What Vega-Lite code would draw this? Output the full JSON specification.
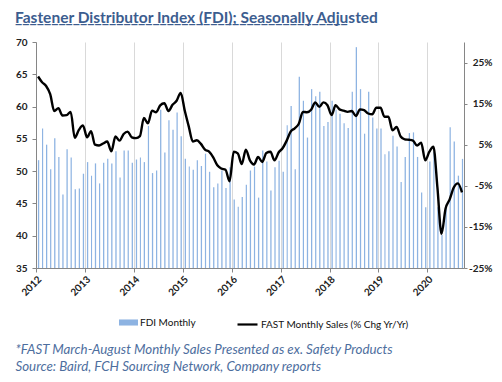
{
  "$schema": "https://vega.github.io/schema/vega-lite/v6.json",
  "width": 428,
  "height": 226,
  "autosize": {"type": "none"},
  "padding": {"left": 36, "top": 42, "right": 38, "bottom": 114},
  "background": "white",
  "config": {"view": {"stroke": null}, "font": "Lato"},
  "title": {
    "text": "Fastener Distributor Index (FDI); Seasonally Adjusted",
    "subtitle": "______________________________________________",
    "anchor": "start",
    "frame": "group",
    "dx": -21,
    "dy": 20,
    "offset": 18,
    "baseline": "alphabetic",
    "font": "Lato",
    "fontSize": 15.5,
    "fontWeight": "bold",
    "color": "#3c5d8f",
    "subtitleFont": "Lato",
    "subtitleFontSize": 15.5,
    "subtitleFontWeight": "bold",
    "subtitleColor": "#3c5d8f",
    "subtitlePadding": -16
  },
  "data": {
    "values": [
      {"m": "2012-01-01", "fdi": 51.7, "fast": 21.6},
      {"m": "2012-02-01", "fdi": 56.6, "fast": 20.2},
      {"m": "2012-03-01", "fdi": 54.1, "fast": 19.3},
      {"m": "2012-04-01", "fdi": 50.3, "fast": 17.3},
      {"m": "2012-05-01", "fdi": 55.1, "fast": 13.2},
      {"m": "2012-06-01", "fdi": 52.2, "fast": 13.9},
      {"m": "2012-07-01", "fdi": 46.4, "fast": 12.1},
      {"m": "2012-08-01", "fdi": 53.4, "fast": 12.2},
      {"m": "2012-09-01", "fdi": 52.1, "fast": 13.0},
      {"m": "2012-10-01", "fdi": 47.2, "fast": 6.7},
      {"m": "2012-11-01", "fdi": 47.3, "fast": 8.6},
      {"m": "2012-12-01", "fdi": 49.6, "fast": 9.7},
      {"m": "2013-01-01", "fdi": 51.4, "fast": 6.8},
      {"m": "2013-02-01", "fdi": 49.3, "fast": 8.3},
      {"m": "2013-03-01", "fdi": 51.2, "fast": 5.0},
      {"m": "2013-04-01", "fdi": 48.1, "fast": 4.8},
      {"m": "2013-05-01", "fdi": 51.3, "fast": 5.3},
      {"m": "2013-06-01", "fdi": 51.9, "fast": 5.8},
      {"m": "2013-07-01", "fdi": 51.2, "fast": 3.4},
      {"m": "2013-08-01", "fdi": 53.1, "fast": 7.0},
      {"m": "2013-09-01", "fdi": 49.0, "fast": 6.0},
      {"m": "2013-10-01", "fdi": 53.2, "fast": 7.6},
      {"m": "2013-11-01", "fdi": 53.2, "fast": 8.2},
      {"m": "2013-12-01", "fdi": 51.3, "fast": 6.8},
      {"m": "2014-01-01", "fdi": 51.8, "fast": 6.6},
      {"m": "2014-02-01", "fdi": 52.1, "fast": 7.1},
      {"m": "2014-03-01", "fdi": 51.4, "fast": 11.5},
      {"m": "2014-04-01", "fdi": 57.0, "fast": 10.2},
      {"m": "2014-05-01", "fdi": 49.7, "fast": 13.3},
      {"m": "2014-06-01", "fdi": 50.1, "fast": 12.9},
      {"m": "2014-07-01", "fdi": 59.5, "fast": 14.6},
      {"m": "2014-08-01", "fdi": 52.9, "fast": 15.1},
      {"m": "2014-09-01", "fdi": 57.9, "fast": 13.2},
      {"m": "2014-10-01", "fdi": 56.4, "fast": 14.7},
      {"m": "2014-11-01", "fdi": 59.1, "fast": 15.7},
      {"m": "2014-12-01", "fdi": 55.4, "fast": 17.6},
      {"m": "2015-01-01", "fdi": 51.9, "fast": 13.2},
      {"m": "2015-02-01", "fdi": 50.7, "fast": 9.4},
      {"m": "2015-03-01", "fdi": 50.2, "fast": 5.8},
      {"m": "2015-04-01", "fdi": 51.7, "fast": 6.1},
      {"m": "2015-05-01", "fdi": 50.8, "fast": 5.2},
      {"m": "2015-06-01", "fdi": 52.7, "fast": 3.8},
      {"m": "2015-07-01", "fdi": 49.9, "fast": 3.3},
      {"m": "2015-08-01", "fdi": 47.5, "fast": 1.9},
      {"m": "2015-09-01", "fdi": 48.1, "fast": 0.0},
      {"m": "2015-10-01", "fdi": 50.1, "fast": -0.8},
      {"m": "2015-11-01", "fdi": 47.4, "fast": -1.1},
      {"m": "2015-12-01", "fdi": 50.6, "fast": -3.9},
      {"m": "2016-01-01", "fdi": 45.6, "fast": 3.3},
      {"m": "2016-02-01", "fdi": 44.5, "fast": 2.9},
      {"m": "2016-03-01", "fdi": 46.0, "fast": 0.3},
      {"m": "2016-04-01", "fdi": 47.9, "fast": 3.8},
      {"m": "2016-05-01", "fdi": 50.1, "fast": 1.2},
      {"m": "2016-06-01", "fdi": 50.7, "fast": 0.2},
      {"m": "2016-07-01", "fdi": 45.9, "fast": 2.0},
      {"m": "2016-08-01", "fdi": 53.2, "fast": 0.8},
      {"m": "2016-09-01", "fdi": 51.5, "fast": 3.0},
      {"m": "2016-10-01", "fdi": 47.0, "fast": 3.3},
      {"m": "2016-11-01", "fdi": 50.6, "fast": 1.2},
      {"m": "2016-12-01", "fdi": 51.6, "fast": 3.1},
      {"m": "2017-01-01", "fdi": 49.9, "fast": 4.2},
      {"m": "2017-02-01", "fdi": 57.1, "fast": 6.0},
      {"m": "2017-03-01", "fdi": 60.1, "fast": 8.2},
      {"m": "2017-04-01", "fdi": 50.3, "fast": 9.0},
      {"m": "2017-05-01", "fdi": 64.6, "fast": 10.1},
      {"m": "2017-06-01", "fdi": 60.9, "fast": 13.0},
      {"m": "2017-07-01", "fdi": 55.2, "fast": 12.9},
      {"m": "2017-08-01", "fdi": 62.7, "fast": 13.5},
      {"m": "2017-09-01", "fdi": 61.6, "fast": 15.3},
      {"m": "2017-10-01", "fdi": 62.3, "fast": 14.2},
      {"m": "2017-11-01", "fdi": 57.0, "fast": 15.3},
      {"m": "2017-12-01", "fdi": 57.6, "fast": 14.6},
      {"m": "2018-01-01", "fdi": 60.9, "fast": 12.2},
      {"m": "2018-02-01", "fdi": 59.5, "fast": 14.6},
      {"m": "2018-03-01", "fdi": 58.9, "fast": 13.6},
      {"m": "2018-04-01", "fdi": 57.4, "fast": 13.3},
      {"m": "2018-05-01", "fdi": 56.7, "fast": 13.0},
      {"m": "2018-06-01", "fdi": 62.3, "fast": 13.2},
      {"m": "2018-07-01", "fdi": 69.2, "fast": 12.0},
      {"m": "2018-08-01", "fdi": 62.7, "fast": 13.6},
      {"m": "2018-09-01", "fdi": 55.8, "fast": 13.4},
      {"m": "2018-10-01", "fdi": 62.3, "fast": 12.6},
      {"m": "2018-11-01", "fdi": 58.3, "fast": 12.4},
      {"m": "2018-12-01", "fdi": 56.6, "fast": 14.0},
      {"m": "2019-01-01", "fdi": 56.6, "fast": 14.0},
      {"m": "2019-02-01", "fdi": 52.6, "fast": 11.8},
      {"m": "2019-03-01", "fdi": 53.1, "fast": 11.8},
      {"m": "2019-04-01", "fdi": 55.5, "fast": 8.5},
      {"m": "2019-05-01", "fdi": 53.8, "fast": 9.3},
      {"m": "2019-06-01", "fdi": 48.3, "fast": 7.0},
      {"m": "2019-07-01", "fdi": 52.2, "fast": 6.3},
      {"m": "2019-08-01", "fdi": 55.9, "fast": 6.2},
      {"m": "2019-09-01", "fdi": 56.0, "fast": 6.0},
      {"m": "2019-10-01", "fdi": 52.2, "fast": 4.8},
      {"m": "2019-11-01", "fdi": 46.7, "fast": 5.5},
      {"m": "2019-12-01", "fdi": 44.4, "fast": 1.2},
      {"m": "2020-01-01", "fdi": 51.5, "fast": 3.3},
      {"m": "2020-02-01", "fdi": 53.0, "fast": 4.5},
      {"m": "2020-03-01", "fdi": 44.4, "fast": -5.4},
      {"m": "2020-04-01", "fdi": 40.1, "fast": -16.7},
      {"m": "2020-05-01", "fdi": 44.5, "fast": -10.5},
      {"m": "2020-06-01", "fdi": 56.8, "fast": -8.3},
      {"m": "2020-07-01", "fdi": 54.6, "fast": -5.4},
      {"m": "2020-08-01", "fdi": 49.3, "fast": -4.4},
      {"m": "2020-09-01", "fdi": 51.9, "fast": -6.6}
    ]
  },
  "layer": [
    {
      "mark": {"type": "bar", "width": {"band": 0.55}},
      "encoding": {
        "x": {
          "field": "m",
          "type": "temporal",
          "timeUnit": "utcyearmonth",
          "scale": {
            "type": "utc",
            "nice": false,
            "domain": [
              {"year": 2012, "month": 1, "date": 1, "utc": true},
              {"year": 2020, "month": 10, "date": 1, "utc": true}
            ]
          },
          "axis": {
            "values": [
              {"year": 2012, "month": 1, "date": 1, "utc": true},
              {"year": 2012, "month": 7, "date": 1, "utc": true},
              {"year": 2013, "month": 1, "date": 1, "utc": true},
              {"year": 2013, "month": 7, "date": 1, "utc": true},
              {"year": 2014, "month": 1, "date": 1, "utc": true},
              {"year": 2014, "month": 7, "date": 1, "utc": true},
              {"year": 2015, "month": 1, "date": 1, "utc": true},
              {"year": 2015, "month": 7, "date": 1, "utc": true},
              {"year": 2016, "month": 1, "date": 1, "utc": true},
              {"year": 2016, "month": 7, "date": 1, "utc": true},
              {"year": 2017, "month": 1, "date": 1, "utc": true},
              {"year": 2017, "month": 7, "date": 1, "utc": true},
              {"year": 2018, "month": 1, "date": 1, "utc": true},
              {"year": 2018, "month": 7, "date": 1, "utc": true},
              {"year": 2019, "month": 1, "date": 1, "utc": true},
              {"year": 2019, "month": 7, "date": 1, "utc": true},
              {"year": 2020, "month": 1, "date": 1, "utc": true},
              {"year": 2020, "month": 7, "date": 1, "utc": true}
            ],
            "labelExpr": "utcmonth(datum.value) == 0 ? utcFormat(datum.value, '%Y') : ''",
            "labelAngle": -45,
            "labelFont": "Lato",
            "labelFontSize": 10,
            "labelFontWeight": "bold",
            "labelColor": "#222222",
            "labelOverlap": false,
            "labelPadding": 2,
            "grid": true,
            "gridColor": {"condition": {"test": "utcmonth(datum.value) == 6", "value": "#a6a6a6"}, "value": "#d9d9d9"},
            "gridWidth": 1,
            "tickColor": {"condition": {"test": "utcmonth(datum.value) == 6", "value": "transparent"}, "value": "#868686"},
            "tickSize": 4,
            "domainColor": "#868686",
            "title": ["*FAST March-August Monthly Sales Presented as ex. Safety Products", "Source: Baird, FCH Sourcing Network, Company reports"],
            "titleFont": "Lato",
            "titleFontSize": 13.3,
            "titleFontStyle": "italic",
            "titleFontWeight": "normal",
            "titleColor": "#4d6e9e",
            "titleAnchor": "start",
            "titleAlign": "left",
            "titleBaseline": "alphabetic",
            "titleX": -21,
            "titleY": 85,
            "titleLineHeight": 17
          }
        },
        "y": {
          "field": "fdi",
          "type": "quantitative",
          "scale": {"domain": [35, 70], "zero": false, "nice": false},
          "axis": {
            "values": [35, 40, 45, 50, 55, 60, 65, 70],
            "grid": false,
            "title": null,
            "tickSize": 4,
            "tickColor": "#868686",
            "domainColor": "#868686",
            "labelFont": "Lato",
            "labelFontSize": 10,
            "labelFontWeight": "bold",
            "labelColor": "#222222",
            "labelPadding": 5
          }
        },
        "y2": {"datum": 35},
        "fill": {
          "datum": "FDI Monthly",
          "scale": {"range": ["#8db3e2"]},
          "legend": {
            "orient": "none",
            "legendX": 83,
            "legendY": 271,
            "title": null,
            "padding": 0,
            "symbolType": "M-1,-0.32H1V0.32H-1Z",
            "symbolSize": 361,
            "symbolStrokeWidth": 0,
            "labelFont": "Lato",
            "labelFontSize": 10,
            "labelColor": "#111111",
            "labelOffset": 2
          }
        }
      }
    },
    {
      "mark": {"type": "line", "strokeWidth": 2.4, "interpolate": "monotone"},
      "encoding": {
        "x": {"field": "m", "type": "temporal", "timeUnit": "utcyearmonth", "bandPosition": 0.5},
        "y": {
          "field": "fast",
          "type": "quantitative",
          "scale": {"domain": [-25, 30], "zero": false, "nice": false},
          "axis": {
            "orient": "right",
            "values": [-25, -15, -5, 5, 15, 25],
            "labelExpr": "datum.value + '%'",
            "grid": false,
            "title": null,
            "tickSize": 3,
            "tickColor": "#868686",
            "domainColor": "#868686",
            "labelFont": "Lato",
            "labelFontSize": 10,
            "labelFontWeight": "bold",
            "labelColor": "#222222",
            "labelAlign": "right",
            "labelPadding": 25
          }
        },
        "stroke": {
          "datum": "FAST Monthly Sales (% Chg Yr/Yr)",
          "scale": {"range": ["#000000"]},
          "legend": {
            "orient": "none",
            "legendX": 200,
            "legendY": 271,
            "title": null,
            "padding": 0,
            "symbolType": "stroke",
            "symbolSize": 400,
            "symbolStrokeWidth": 2.2,
            "labelFont": "Lato",
            "labelFontSize": 10,
            "labelColor": "#111111",
            "labelOffset": 2
          }
        }
      }
    }
  ],
  "resolve": {"scale": {"y": "independent"}}
}
